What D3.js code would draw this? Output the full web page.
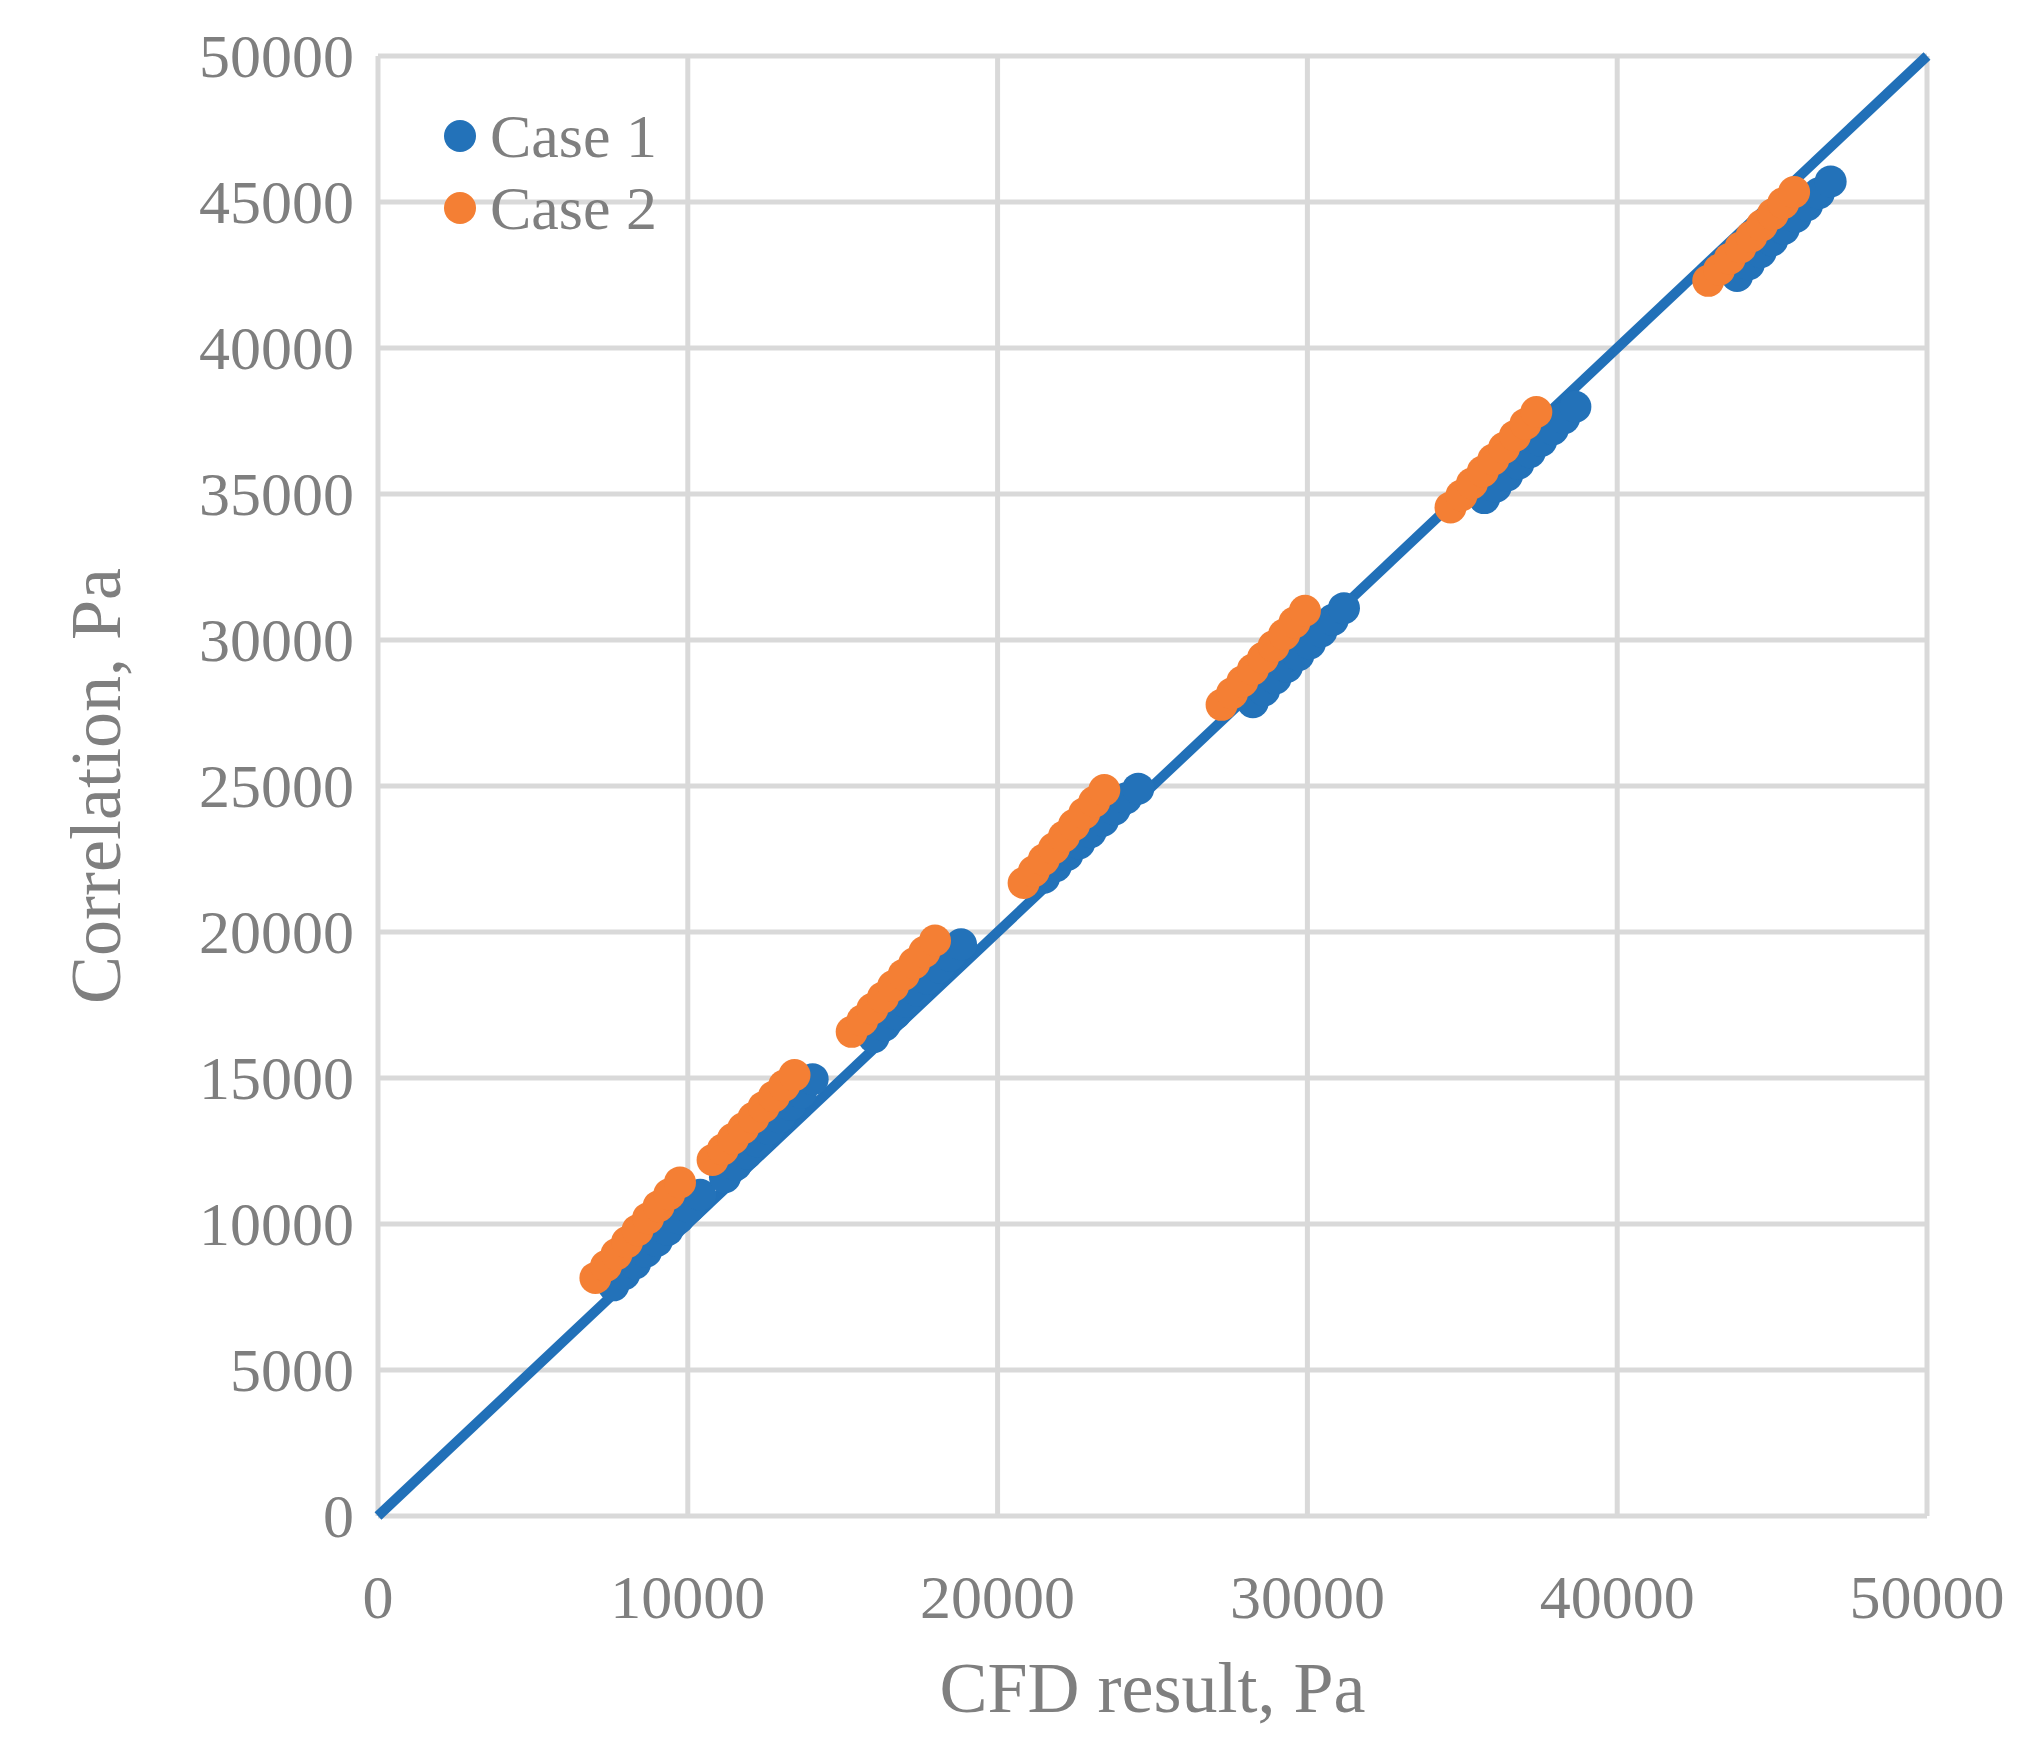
<!DOCTYPE html>
<html><head><meta charset="utf-8">
<script src="https://cdn.jsdelivr.net/npm/d3@7"></script>
<style>body{margin:0;background:#fff}</style></head>
<body><svg id="c" width="2043" height="1750"></svg>
<script>
const xTicks=[0,10000,20000,30000,40000,50000];
const yTicks=[0,5000,10000,15000,20000,25000,30000,35000,40000,45000,50000];
const case1X=[7600,7950,8300,8650,9000,9350,9700,10050,10400,
 11200,11550,11900,12250,12600,12950,13300,13650,14030,
 16000,16350,16700,17050,17400,17750,18100,18450,18820,
 21500,21880,22250,22630,23000,23400,23780,24150,24540,
 28240,28600,28970,29340,29710,30080,30450,30820,31180,
 35710,36080,36450,36810,37180,37550,37920,38290,38650,
 43870,44250,44630,45000,45380,45760,46130,46510,46890];
const case1Y=[7900,8280,8650,9050,9420,9800,10200,10580,11000,
 11600,12020,12420,12830,13250,13660,14080,14500,14960,
 16400,16800,17200,17600,17990,18390,18790,19190,19580,
 21860,22250,22640,23030,23420,23810,24200,24580,24910,
 27870,28270,28680,29080,29480,29880,30290,30690,31090,
 34860,35250,35640,36040,36430,36820,37210,37600,37990,
 42470,42870,43280,43680,44080,44490,44890,45300,45700];
const case2X=[7017,7360,7700,8040,8380,8720,9060,9400,9748,
 10800,11130,11460,11790,12120,12450,12780,13110,13445,
 15290,15630,15960,16300,16630,16970,17310,17640,17980,
 20840,21170,21490,21820,22140,22470,22800,23120,23445,
 27230,27570,27900,28240,28570,28910,29250,29580,29920,
 34620,34970,35310,35660,36000,36350,36700,37040,37390,
 42940,43290,43630,43980,44330,44670,45020,45360,45710];
const case2Y=[8154,8560,8970,9380,9790,10200,10610,11020,11425,
 12190,12550,12920,13280,13640,14010,14370,14740,15100,
 16580,16970,17370,17760,18150,18540,18930,19320,19710,
 21680,22080,22480,22870,23270,23670,24070,24460,24860,
 27780,28180,28580,28990,29390,29790,30190,30600,31000,
 34540,34950,35360,35770,36180,36580,36990,37400,37810,
 42300,42680,43060,43440,43820,44200,44580,44960,45340];
const series=[{name:"Case 1",xs:case1X,ys:case1Y,color:"#2372b9"},{name:"Case 2",xs:case2X,ys:case2Y,color:"#f47f34"}];
const diag=[0,50000];

const svg=d3.select("#c");
const L=378,R=1927,T=56,B=1516;
const x=d3.scaleLinear().domain([0,50000]).range([L,R]);
const y=d3.scaleLinear().domain([0,50000]).range([B,T]);
const font="Liberation Serif, Times New Roman, serif", tc="#7f7f7f";
const g=svg.append("g");
g.selectAll(".vx").data(xTicks).join("line").attr("x1",d=>x(d)).attr("x2",d=>x(d)).attr("y1",T).attr("y2",B).attr("stroke","#d9d9d9").attr("stroke-width",5);
g.selectAll(".hy").data(yTicks).join("line").attr("x1",L).attr("x2",R).attr("y1",d=>y(d)).attr("y2",d=>y(d)).attr("stroke","#d9d9d9").attr("stroke-width",5);
svg.selectAll(".xt").data(xTicks).join("text").attr("x",d=>x(d)).attr("y",1618).attr("text-anchor","middle").attr("font-family",font).attr("font-size",62).attr("fill",tc).text(d=>d);
svg.selectAll(".yt").data(yTicks).join("text").attr("x",354).attr("y",d=>y(d)+21).attr("text-anchor","end").attr("font-family",font).attr("font-size",62).attr("fill",tc).text(d=>d);
svg.append("text").attr("x",(L+R)/2).attr("y",1712).attr("text-anchor","middle").attr("font-family",font).attr("font-size",72).attr("fill",tc).text("CFD result, Pa");
svg.append("text").attr("transform",`translate(120,${(T+B)/2}) rotate(-90)`).attr("text-anchor","middle").attr("font-family",font).attr("font-size",72).attr("fill",tc).text("Correlation, Pa");
svg.append("line").attr("x1",x(diag[0])).attr("y1",y(diag[0])).attr("x2",x(diag[1])).attr("y2",y(diag[1])).attr("stroke","#2170b8").attr("stroke-width",10);
series.forEach(s=>{
 svg.append("g").selectAll("circle").data(s.xs.map((v,i)=>[v,s.ys[i]])).join("circle").attr("cx",d=>x(d[0])).attr("cy",d=>y(d[1])).attr("r",16).attr("fill",s.color);
});
series.forEach((s,i)=>{
 const yy=136+i*72;
 svg.append("circle").attr("cx",460).attr("cy",yy).attr("r",16).attr("fill",s.color);
 svg.append("text").attr("x",490).attr("y",yy+21).attr("font-family",font).attr("font-size",62).attr("fill",tc).text(s.name);
});
</script></body></html>
